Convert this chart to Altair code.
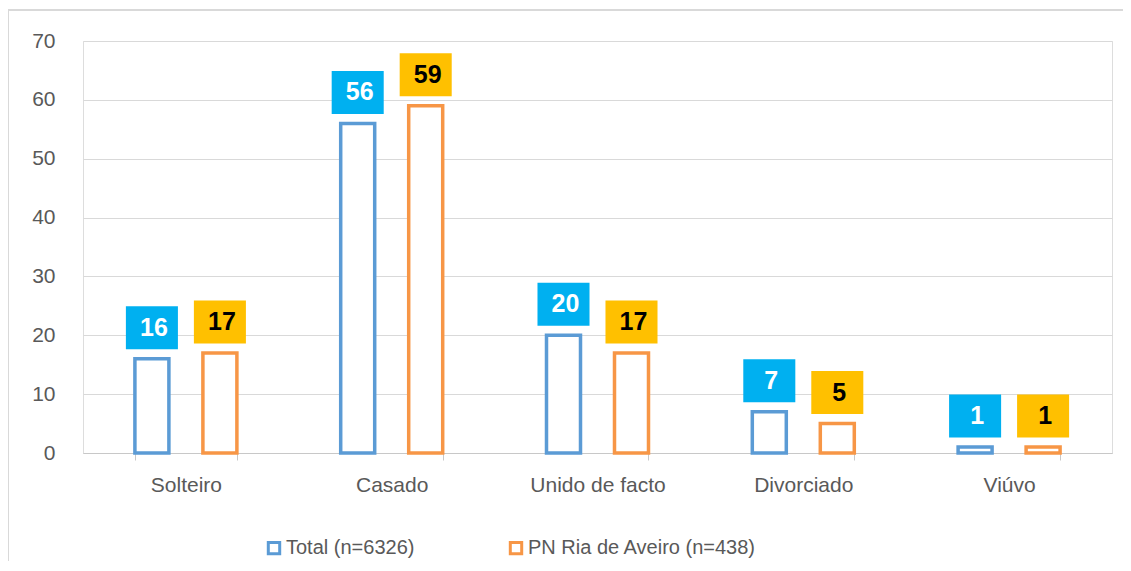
import altair as alt
import pandas as pd

categories = ["Solteiro", "Casado", "Unido de facto", "Divorciado", "Viúvo"]
series_names = ["Total (n=6326)", "PN Ria de Aveiro (n=438)"]
total_values = [16, 56, 20, 7, 1]
ria_values = [17, 59, 17, 5, 1]
y_ticks = [0, 10, 20, 30, 40, 50, 60, 70]

rows = []
for c, t, r in zip(categories, total_values, ria_values):
    rows.append({"cat": c, "serie": series_names[0], "value": t})
    rows.append({"cat": c, "serie": series_names[1], "value": r})
df = pd.DataFrame(rows)

FONT = "Liberation Sans"
GREY = "#595959"
W, H = 1029, 412

x_enc = alt.X("cat:N", sort=categories, title=None,
              scale=alt.Scale(paddingInner=0.5044, paddingOuter=0.2522),
              axis=alt.Axis(labelAngle=0, labelFontSize=21, labelColor=GREY, labelFont=FONT,
                            labelPadding=14, domainColor="#c8c8c8", domainWidth=1.2,
                            tickColor="#c8c8c8", tickSize=7, tickBand="extent", grid=False))
xo_enc = alt.XOffset("serie:N", sort=series_names,
                     scale=alt.Scale(paddingInner=0.5, paddingOuter=0))
y_enc = alt.Y("value:Q", title=None,
              scale=alt.Scale(domain=[0, 70], nice=False),
              axis=alt.Axis(values=y_ticks, labelFontSize=21, labelColor=GREY, labelFont=FONT,
                            labelPadding=28, domain=False, ticks=False,
                            gridColor="#d9d9d9", gridWidth=1.2))

base = alt.Chart(df)

bars = base.mark_bar(fill="white", strokeWidth=3.5).encode(
    x=x_enc, xOffset=xo_enc, y=y_enc,
    stroke=alt.Stroke("serie:N", sort=series_names,
                      scale=alt.Scale(domain=series_names, range=["#5B9BD5", "#F79646"]),
                      legend=alt.Legend(title=None, orient="none", direction="horizontal",
                                        legendX=181, legendY=497, symbolType="square",
                                        symbolSize=130, symbolStrokeWidth=3,
                                        symbolFillColor="white", labelFontSize=20,
                                        labelColor=GREY, labelFont=FONT, labelOffset=2,
                                        labelLimit=500, columnPadding=89, padding=0)),
)

boxes = base.mark_point(shape="M-1.21,-1H1.21V1H-1.21Z", size=1849, filled=True,
                        opacity=1, yOffset=-31).encode(
    x=alt.X("cat:N", sort=categories), xOffset=alt.XOffset("serie:N", sort=series_names),
    y="value:Q",
    color=alt.condition(alt.datum.serie == series_names[0], alt.value("#00B0F0"), alt.value("#FFC000")),
)

labels = base.mark_text(fontWeight="bold", fontSize=25, font=FONT, dy=-31, dx=2,
                        baseline="middle", align="center").encode(
    x=alt.X("cat:N", sort=categories), xOffset=alt.XOffset("serie:N", sort=series_names),
    y="value:Q",
    text="value:Q",
    color=alt.condition(alt.datum.serie == series_names[0], alt.value("white"), alt.value("black")),
)

frame_src = alt.Chart(alt.Data(values=[{}]))
frame_left = frame_src.mark_rule(stroke="#d9d9d9", strokeWidth=2).encode(
    x=alt.value(-75), y=alt.value(-31), y2=alt.value(520))
frame_top = frame_src.mark_rule(stroke="#d9d9d9", strokeWidth=2).encode(
    x=alt.value(-76), x2=alt.value(1040), y=alt.value(-31))

chart = alt.layer(frame_left, frame_top, bars, boxes, labels).properties(
    width=W, height=H,
    autosize=alt.AutoSizeParams(type="none"),
    padding={"left": 75, "top": 33, "right": 11, "bottom": 108},
).configure_view(stroke=None).configure(background="white")

chart.save("out.html", embed_options={"renderer": "svg", "actions": False})
